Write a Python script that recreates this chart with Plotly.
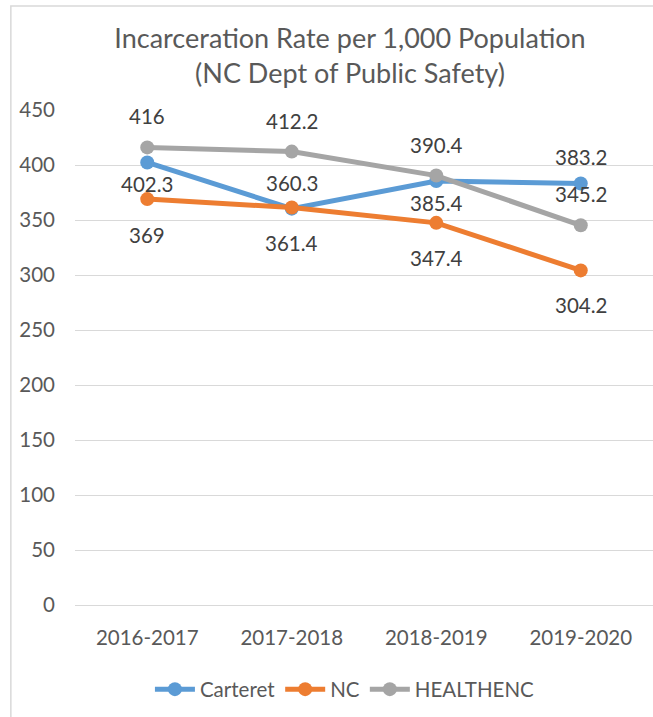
import plotly.graph_objects as go

categories = ["2016-2017", "2017-2018", "2018-2019", "2019-2020"]
carteret = [402.3, 360.3, 385.4, 383.2]
nc = [369, 361.4, 347.4, 304.2]
healthenc = [416, 412.2, 390.4, 345.2]
y_ticks = [0, 50, 100, 150, 200, 250, 300, 350, 400, 450]

series = [
    ("Carteret", carteret, "#5B9BD5", [22, -26, 22, -26]),
    ("NC", nc, "#ED7D31", [36, 36, 35, 35]),
    ("HEALTHENC", healthenc, "#A5A5A5", [-31, -31, -31, -31]),
]

FONT = "Lato"
TXT = "#595959"
FS = 20.5

fig = go.Figure()
annotations = []
for name, vals, color, shifts in series:
    fig.add_trace(go.Scatter(
        x=categories, y=vals, name=name, mode="lines+markers",
        line=dict(color=color, width=5),
        marker=dict(color=color, size=14),
    ))
    for c, v, s in zip(categories, vals, shifts):
        annotations.append(dict(
            x=c, y=v, xref="x", yref="y", text=f"{v:g}", showarrow=False,
            yshift=-s, font=dict(family=FONT, size=FS, color="#404040"),
        ))

fig.update_layout(
    width=653, height=717,
    margin=dict(l=75, r=0, t=110, b=112),
    paper_bgcolor="white", plot_bgcolor="white",
    font=dict(family=FONT, color=TXT, size=FS),
    title=dict(
        text="Incarceration Rate per 1,000 Population<br>(NC Dept of Public Safety)",
        x=0.536, xref="container", xanchor="center", y=0.933, yanchor="top",
        font=dict(family=FONT, size=27, color=TXT),
    ),
    showlegend=True,
    legend=dict(orientation="h", x=0.467, xanchor="center", y=-0.13, yanchor="top",
                font=dict(family=FONT, size=FS, color=TXT), itemwidth=40),
    annotations=annotations,
    shapes=[dict(type="rect", xref="paper", yref="paper", x0=-0.111, x1=1.2,
                 y0=-0.4, y1=1.21, line=dict(color="#D9D9D9", width=1.5),
                 fillcolor="rgba(0,0,0,0)", layer="below")],
)
fig.update_xaxes(
    type="category", range=[-0.5, 3.5], showgrid=False, showline=False,
    ticks="outside", ticklen=14, tickcolor="rgba(0,0,0,0)",
    tickfont=dict(family=FONT, size=FS, color=TXT),
)
fig.update_yaxes(
    range=[0, 450], tickvals=y_ticks, showgrid=True, gridcolor="#D9D9D9",
    gridwidth=1, zeroline=True, zerolinecolor="#D9D9D9", zerolinewidth=1,
    showline=False, ticklabelstandoff=19,
    tickfont=dict(family=FONT, size=FS, color=TXT),
)
fig.write_html("out.html", config={"displayModeBar": False},
               post_script="document.body.style.margin='0';")
